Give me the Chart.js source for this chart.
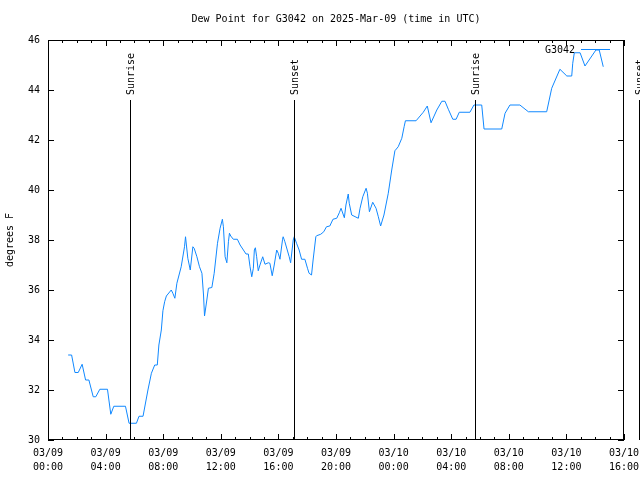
<!DOCTYPE html>
<html>
<head>
<meta charset="utf-8">
<script src="https://cdn.jsdelivr.net/npm/chart.js@4"></script>
<style>
  html, body { margin: 0; padding: 0; background: #ffffff; }
  #c { display: block; }
</style>
</head>
<body>
<canvas id="c" width="640" height="480"></canvas>
<script>
// ---- data (x = hours since 03/09 00:00 UTC) ----
const seriesLabel = 'G3042';
const hours = [
  1.40,1.64,1.87,2.10,2.37,2.61,2.84,3.14,3.32,3.60,4.13,4.36,4.57,5.38,5.63,6.14,6.32,6.60,6.94,7.18,
  7.41,7.59,7.70,7.87,7.98,8.10,8.22,8.56,8.67,8.81,8.95,9.25,9.48,9.55,9.71,9.88,
  10.06,10.15,10.34,10.52,10.69,10.80,10.87,11.03,11.14,11.38,11.54,11.77,11.95,12.11,12.18,12.30,
  12.42,12.53,12.60,12.69,12.87,13.15,13.34,13.57,13.75,13.91,14.03,14.15,14.26,14.33,14.40,14.49,
  14.60,14.72,14.91,15.07,15.30,15.41,15.57,15.71,15.88,15.99,16.11,16.29,16.33,16.45,16.75,16.85,
  17.03,17.10,17.26,17.44,17.61,17.84,18.02,18.13,18.30,18.41,18.60,18.65,18.94,19.15,19.34,19.57,
  19.79,20.05,20.23,20.35,20.58,20.69,20.85,20.92,21.09,21.55,21.67,21.86,22.09,22.18,22.32,22.55,
  22.78,22.94,23.10,23.33,23.63,23.87,24.09,24.32,24.57,24.73,24.82,25.56,26.06,26.34,26.60,27.00,
  27.35,27.57,27.80,28.11,28.34,28.56,29.30,29.58,30.12,30.28,31.51,31.74,32.08,32.77,33.36,34.63,
  34.98,35.55,36.03,36.37,36.44,36.55,36.95,37.29,38.05,38.28,38.56
];
const dewPoint = [
  33.40,33.40,32.70,32.70,33.03,32.40,32.40,31.73,31.73,32.03,32.03,31.03,31.35,31.35,30.67,30.67,30.95,30.95,32.00,32.67,
  33.00,33.00,33.80,34.40,35.17,35.53,35.76,36.00,35.87,35.67,36.27,36.93,37.73,38.13,37.27,36.80,
  37.73,37.67,37.33,36.93,36.67,35.80,34.96,35.60,36.07,36.10,36.67,37.87,38.47,38.83,38.53,37.33,
  37.09,37.93,38.27,38.16,38.03,38.03,37.80,37.60,37.44,37.44,36.93,36.53,36.87,37.60,37.69,37.33,
  36.77,37.00,37.33,37.03,37.09,37.07,36.57,37.00,37.60,37.47,37.23,38.03,38.13,37.93,37.33,37.09,
  38.00,38.13,37.87,37.60,37.23,37.23,36.87,36.67,36.60,37.20,38.13,38.17,38.23,38.33,38.53,38.56,
  38.83,38.87,39.09,39.27,38.89,39.40,39.84,39.47,39.00,38.87,39.27,39.73,40.07,39.87,39.13,39.51,
  39.27,38.93,38.56,39.00,39.87,40.80,41.57,41.73,42.07,42.53,42.77,42.77,43.11,43.36,42.69,43.20,
  43.55,43.55,43.23,42.83,42.83,43.11,43.11,43.40,43.40,42.44,42.44,43.07,43.40,43.40,43.13,43.13,
  44.07,44.83,44.56,44.56,45.07,45.49,45.49,44.96,45.60,45.60,44.93
];
const eventHours = [5.69, 17.08, 29.65, 41.05];
const eventNames = ['Sunrise', 'Sunset', 'Sunrise', 'Sunset'];
const xTickHours = [0, 4, 8, 12, 16, 20, 24, 28, 32, 36, 40];
const xTickLabels = ['03/09 00:00','03/09 04:00','03/09 08:00','03/09 12:00','03/09 16:00','03/09 20:00',
                     '03/10 00:00','03/10 04:00','03/10 08:00','03/10 12:00','03/10 16:00'];
const yTicks = [30, 32, 34, 36, 38, 40, 42, 44, 46];
const titleText = 'Dew Point for G3042 on 2025-Mar-09 (time in UTC)';
const yTitle = 'degrees F';

// ---- drawing ----
const FONT = 'DejaVu Sans Mono';
const LINE_COLOR = 'rgb(16,136,255)';

const decorPlugin = {
  id: 'decor',
  afterDraw(chart) {
    const ctx = chart.ctx;
    const a = chart.chartArea;
    const xs = chart.scales.x, ys = chart.scales.y;
    ctx.save();
    ctx.strokeStyle = '#000';
    ctx.lineWidth = 1;
    // border
    ctx.strokeRect(Math.round(a.left) + 0.5, Math.round(a.top) + 0.5,
                   Math.round(a.right - a.left) - 1, Math.round(a.bottom - a.top) - 1);
    ctx.beginPath();
    // x ticks: minor each hour, major at labelled ticks
    for (let h = xs.min; h <= xs.max; h += 1) {
      const px = Math.round(xs.getPixelForValue(h)) + 0.5;
      const len = xTickHours.includes(h) ? 6 : 3;
      ctx.moveTo(px, a.bottom); ctx.lineTo(px, a.bottom - len);
      ctx.moveTo(px, a.top); ctx.lineTo(px, a.top + len);
    }
    // y ticks
    yTicks.forEach(v => {
      const py = Math.round(ys.getPixelForValue(v)) + 0.5;
      ctx.moveTo(a.left, py); ctx.lineTo(a.left + 6, py);
      ctx.moveTo(a.right, py); ctx.lineTo(a.right - 6, py);
    });
    ctx.stroke();

    // event lines (sunrise / sunset)
    const lineTop = a.top + (a.bottom - a.top) * 0.15;
    ctx.font = '10px "' + FONT + '"';
    ctx.fillStyle = '#000';
    eventHours.forEach((h, i) => {
      const px = Math.round(xs.getPixelForValue(h)) + 0.5;
      ctx.beginPath();
      ctx.moveTo(px, lineTop); ctx.lineTo(px, a.bottom);
      ctx.stroke();
      ctx.save();
      ctx.translate(px + 1, lineTop - 5);
      ctx.rotate(-Math.PI / 2);
      ctx.textAlign = 'left';
      ctx.textBaseline = 'middle';
      ctx.fillText(eventNames[i], 0, 0);
      ctx.restore();
    });

    // legend
    const ly = a.top + 9.5;
    ctx.textAlign = 'right';
    ctx.textBaseline = 'middle';
    ctx.fillText(seriesLabel, a.right - 49, ly + 0.5);
    ctx.strokeStyle = LINE_COLOR;
    ctx.beginPath();
    ctx.moveTo(a.right - 43, ly); ctx.lineTo(a.right - 14, ly);
    ctx.stroke();
    ctx.restore();
  }
};

const points = hours.map((h, i) => ({ x: h, y: dewPoint[i] }));

new Chart(document.getElementById('c'), {
  type: 'line',
  data: {
    datasets: [{
      label: seriesLabel,
      data: points,
      borderColor: LINE_COLOR,
      backgroundColor: LINE_COLOR,
      borderWidth: 1,
      pointRadius: 0,
      tension: 0,
      fill: false
    }]
  },
  options: {
    responsive: false,
    animation: false,
    devicePixelRatio: 1,
    layout: { padding: { left: 0, right: 16, top: 0, bottom: 0 } },
    plugins: {
      legend: { display: false },
      tooltip: { enabled: false },
      title: {
        display: true,
        fullSize: false,
        text: titleText,
        color: '#000',
        font: { family: FONT, size: 10, weight: 'normal', lineHeight: 1.2 },
        padding: { top: 13, bottom: 15 }
      }
    },
    scales: {
      x: {
        type: 'linear',
        min: 0,
        max: 40,
        grid: { display: false, drawTicks: false },
        border: { display: false },
        afterBuildTicks: s => { s.ticks = xTickHours.map(v => ({ value: v })); },
        afterFit: s => { s.height = 40; s.paddingLeft = 0; s.paddingRight = 0; },
        ticks: {
          autoSkip: false,
          maxRotation: 0,
          minRotation: 0,
          padding: 6,
          color: '#000',
          font: { family: FONT, size: 10, lineHeight: 1.4 },
          callback: (v, i) => xTickLabels[i].split(' ')
        }
      },
      y: {
        type: 'linear',
        min: 30,
        max: 46,
        grid: { display: false, drawTicks: false },
        border: { display: false },
        afterBuildTicks: s => { s.ticks = yTicks.map(v => ({ value: v })); },
        afterFit: s => { s.width = 48; },
        title: {
          display: true,
          text: yTitle,
          color: '#000',
          font: { family: FONT, size: 10, lineHeight: 1.2 },
          padding: { top: 4, bottom: 0 }
        },
        ticks: {
          padding: 8,
          color: '#000',
          font: { family: FONT, size: 10 },
          callback: v => String(v)
        }
      }
    }
  },
  plugins: [decorPlugin]
});
</script>
</body>
</html>
